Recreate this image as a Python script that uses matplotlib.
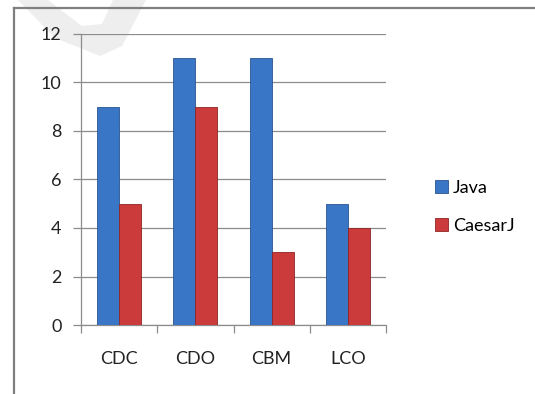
import matplotlib.pyplot as plt
from matplotlib.lines import Line2D
from matplotlib.patches import Polygon
import numpy as np

# data
categories = ['CDC', 'CDO', 'CBM', 'LCO']
java = [9, 11, 11, 5]
caesarj = [5, 9, 3, 4]
y_ticks = [0, 2, 4, 6, 8, 10, 12]

W, H = 535, 394
plt.rcParams['font.family'] = ['Lato', 'DejaVu Sans']

fig = plt.figure(figsize=(W / 100, H / 100), dpi=100)

# faint watermark swoosh in the top left corner
px = lambda pts: [(x / W, 1 - y / H) for x, y in pts]
mark = Polygon(px([(18, 0), (55, 38), (100, 56), (122, 46), (146, 0),
                   (113, 0), (102, 24), (82, 26), (48, 0)]),
               closed=True, facecolor='#eeeeee', edgecolor='none',
               transform=fig.transFigure, zorder=0)
fig.add_artist(mark)

# chart frame (top and left edges visible)
fig.add_artist(Line2D([14 / W, 14 / W], [0, 1 - 8 / H], transform=fig.transFigure,
                      color='#7f7f7f', lw=1.6))
fig.add_artist(Line2D([14 / W, 1], [1 - 8 / H, 1 - 8 / H], transform=fig.transFigure,
                      color='#7f7f7f', lw=1.6))

ax = fig.add_axes([81 / W, 1 - 325 / H, (386 - 81) / W, (325 - 34) / H])
ax.patch.set_alpha(0)

x = np.arange(len(categories))
bw = 0.29
b1 = ax.bar(x - bw / 2, java, bw, color='#3a76c6', edgecolor='#2a5590', lw=0.6,
            label='Java', zorder=3)
b2 = ax.bar(x + bw / 2, caesarj, bw, color='#cc3b3b', edgecolor='#8e2525', lw=0.6,
            label='CaesarJ', zorder=3)

ax.set_xlim(-0.5, len(categories) - 0.5)
ax.set_ylim(0, 12)
ax.set_yticks(y_ticks)
ax.set_xticks(np.arange(len(categories) + 1) - 0.5, minor=False)
ax.set_xticklabels([''] * (len(categories) + 1))
ax.set_xticks(x, minor=True)
ax.set_xticklabels(categories, minor=True)

ax.grid(axis='y', color='#8c8c8c', lw=0.9, zorder=0)
for s in ['top', 'right']:
    ax.spines[s].set_visible(False)
for s in ['left', 'bottom']:
    ax.spines[s].set_color('#8c8c8c')
    ax.spines[s].set_linewidth(0.9)

ax.tick_params(axis='y', length=6, width=0.9, color='#8c8c8c', labelsize=13,
               pad=8, labelcolor='#222222')
ax.tick_params(axis='x', which='major', length=6, width=0.9, color='#8c8c8c')
ax.tick_params(axis='x', which='minor', length=0, labelsize=13, pad=19,
               labelcolor='#222222')

fig.legend(handles=[b1, b2], labels=['Java', 'CaesarJ'], loc='upper left',
           bbox_to_anchor=(426 / W, 1 - 171 / H), frameon=False, fontsize=13,
           handlelength=0.7, handleheight=0.7, handletextpad=0.3,
           labelspacing=1.2, borderpad=0)

fig.savefig('out.png', dpi=100)
